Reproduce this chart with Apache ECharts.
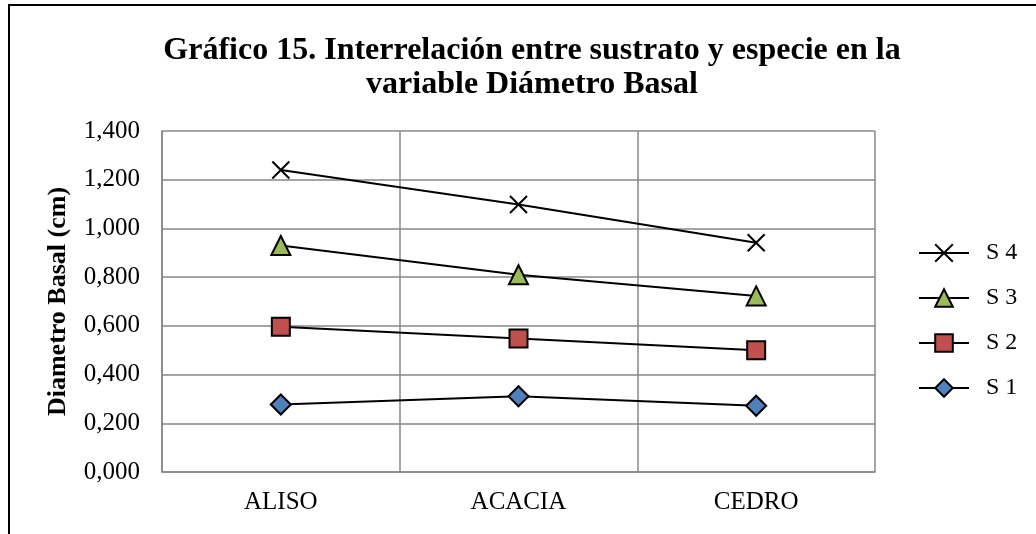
<!DOCTYPE html>
<html>
<head>
<meta charset="utf-8">
<script src="https://cdn.jsdelivr.net/npm/echarts@6/dist/echarts.min.js"></script>
<style>
html,body{margin:0;padding:0;background:#fff;}
#chart{width:1036px;height:534px;}
</style>
</head>
<body>
<div id="chart"></div>
<script>
const categories = ['ALISO','ACACIA','CEDRO'];
const s1 = [0.277, 0.311, 0.272];
const s2 = [0.596, 0.548, 0.500];
const s3 = [0.930, 0.810, 0.723];
const s4 = [1.240, 1.098, 0.941];
const yTicks = {min:0, max:1.4, interval:0.2};

const FONT = '"Liberation Serif", "Times New Roman", serif';
const fmt = v => v.toFixed(3).replace('.', ',');
const gridCol = '#878787';

function ser(name, data, symbol, color, size){
  return {
    name, type:'line', data, symbol, symbolSize:size,
    lineStyle:{color:'#000', width:2},
    itemStyle:{color:color, borderColor:'#000', borderWidth:2},
    emphasis:{disabled:true}, animation:false
  };
}

const c = echarts.init(document.getElementById('chart'));
c.setOption({
  backgroundColor:'#fff',
  animation:false,
  title:{
    text:'Gráfico 15. Interrelación entre sustrato y especie en la\nvariable Diámetro Basal',
    left:527, textAlign:'center', top:29,
    textStyle:{fontFamily:FONT, fontWeight:'bold', fontSize:32, color:'#000', lineHeight:34}
  },
  graphic:[{
    type:'rect', shape:{x:9, y:5, width:1100, height:600},
    style:{fill:null, stroke:'#000', lineWidth:2}, silent:true
  }],
  grid:{left:162, right:161, top:131, bottom:62},
  legend:{
    orient:'vertical', left:913, top:236,
    itemWidth:50, itemHeight:22, itemGap:21,
    data:['S 4','S 3','S 2','S 1'],
    textStyle:{fontFamily:FONT, fontSize:24, color:'#000', padding:[0,0,0,12]}
  },
  xAxis:{
    type:'category', data:categories, boundaryGap:true,
    axisLine:{lineStyle:{color:gridCol, width:1.5}},
    axisTick:{show:false},
    splitLine:{show:true, lineStyle:{color:gridCol, width:1.5}},
    axisLabel:{fontFamily:FONT, fontSize:25, color:'#000', margin:18}
  },
  yAxis:{
    type:'value', min:yTicks.min, max:yTicks.max, interval:yTicks.interval,
    name:'Diametro Basal (cm)', nameLocation:'middle', nameGap:91, nameRotate:90,
    nameTextStyle:{fontFamily:FONT, fontSize:26, fontWeight:'bold', color:'#000'},
    axisLine:{show:true, lineStyle:{color:gridCol, width:1.5}},
    axisTick:{show:false},
    splitLine:{lineStyle:{color:gridCol, width:1.5}},
    axisLabel:{fontFamily:FONT, fontSize:25, color:'#000', margin:22, formatter:fmt}
  },
  series:[
    ser('S 1', s1, 'diamond', '#4F81BD', 20),
    ser('S 2', s2, 'rect', '#C0504D', 18),
    ser('S 3', s3, 'triangle', '#9BBB59', 19),
    ser('S 4', s4, 'path://M0,0L10,10M10,0L0,10', '#000', 17)
  ]
});
</script>
</body>
</html>
